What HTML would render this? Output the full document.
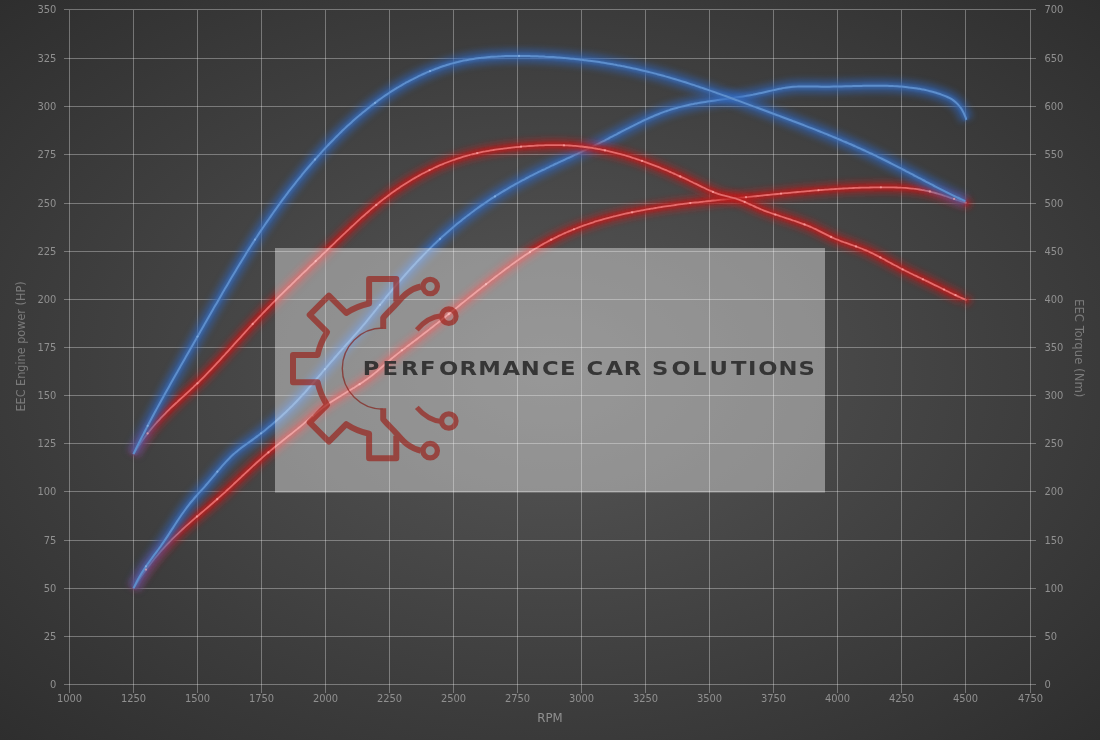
<!DOCTYPE html>
<html><head><meta charset="utf-8"><style>
html,body{margin:0;padding:0;}
body{width:1100px;height:740px;overflow:hidden;background:radial-gradient(ellipse farthest-corner at 50% 50%, #575757 0%, #2e2e2e 100%);}
svg{display:block;position:absolute;left:0;top:0;}
.ax text{font-family:"DejaVu Sans Condensed","DejaVu Sans",sans-serif;font-stretch:condensed;font-size:11px;fill:#909090;}
.logo{font-family:"DejaVu Sans",sans-serif;font-weight:bold;}
</style></head><body>
<svg width="1100" height="740" viewBox="0 0 1100 740">
<defs>
<filter id="glow" x="-10%" y="-10%" width="120%" height="120%"><feGaussianBlur stdDeviation="3"/></filter>
<filter id="soft" x="-5%" y="-5%" width="110%" height="110%"><feGaussianBlur stdDeviation="0.45"/></filter>
<filter id="glow1" x="-10%" y="-10%" width="120%" height="120%"><feGaussianBlur stdDeviation="1.1"/></filter>
</defs>
<g stroke="rgba(255,255,255,0.32)" stroke-width="1" shape-rendering="crispEdges">
<line x1="64" y1="684.5" x2="1036" y2="684.5"/>
<line x1="64" y1="636.5" x2="1036" y2="636.5"/>
<line x1="64" y1="588.5" x2="1036" y2="588.5"/>
<line x1="64" y1="540.5" x2="1036" y2="540.5"/>
<line x1="64" y1="491.5" x2="1036" y2="491.5"/>
<line x1="64" y1="443.5" x2="1036" y2="443.5"/>
<line x1="64" y1="395.5" x2="1036" y2="395.5"/>
<line x1="64" y1="347.5" x2="1036" y2="347.5"/>
<line x1="64" y1="299.5" x2="1036" y2="299.5"/>
<line x1="64" y1="251.5" x2="1036" y2="251.5"/>
<line x1="64" y1="203.5" x2="1036" y2="203.5"/>
<line x1="64" y1="154.5" x2="1036" y2="154.5"/>
<line x1="64" y1="106.5" x2="1036" y2="106.5"/>
<line x1="64" y1="58.5" x2="1036" y2="58.5"/>
<line x1="64" y1="9.5" x2="1036" y2="9.5"/>
<line x1="69.5" y1="9.5" x2="69.5" y2="693"/>
<line x1="133.5" y1="9.5" x2="133.5" y2="693"/>
<line x1="197.5" y1="9.5" x2="197.5" y2="693"/>
<line x1="261.5" y1="9.5" x2="261.5" y2="693"/>
<line x1="325.5" y1="9.5" x2="325.5" y2="693"/>
<line x1="389.5" y1="9.5" x2="389.5" y2="693"/>
<line x1="453.5" y1="9.5" x2="453.5" y2="693"/>
<line x1="517.5" y1="9.5" x2="517.5" y2="693"/>
<line x1="581.5" y1="9.5" x2="581.5" y2="693"/>
<line x1="645.5" y1="9.5" x2="645.5" y2="693"/>
<line x1="709.5" y1="9.5" x2="709.5" y2="693"/>
<line x1="773.5" y1="9.5" x2="773.5" y2="693"/>
<line x1="837.5" y1="9.5" x2="837.5" y2="693"/>
<line x1="901.5" y1="9.5" x2="901.5" y2="693"/>
<line x1="965.5" y1="9.5" x2="965.5" y2="693"/>
<line x1="1030.5" y1="9.5" x2="1030.5" y2="693"/>
</g>
<g class="ax">
<text x="56.3" y="687.6" text-anchor="end">0</text>
<text x="1044.5" y="687.6">0</text>
<text x="56.3" y="639.6" text-anchor="end">25</text>
<text x="1044.5" y="639.6">50</text>
<text x="56.3" y="591.6" text-anchor="end">50</text>
<text x="1044.5" y="591.6">100</text>
<text x="56.3" y="543.6" text-anchor="end">75</text>
<text x="1044.5" y="543.6">150</text>
<text x="56.3" y="494.6" text-anchor="end">100</text>
<text x="1044.5" y="494.6">200</text>
<text x="56.3" y="446.6" text-anchor="end">125</text>
<text x="1044.5" y="446.6">250</text>
<text x="56.3" y="398.6" text-anchor="end">150</text>
<text x="1044.5" y="398.6">300</text>
<text x="56.3" y="350.6" text-anchor="end">175</text>
<text x="1044.5" y="350.6">350</text>
<text x="56.3" y="302.6" text-anchor="end">200</text>
<text x="1044.5" y="302.6">400</text>
<text x="56.3" y="254.6" text-anchor="end">225</text>
<text x="1044.5" y="254.6">450</text>
<text x="56.3" y="206.6" text-anchor="end">250</text>
<text x="1044.5" y="206.6">500</text>
<text x="56.3" y="157.6" text-anchor="end">275</text>
<text x="1044.5" y="157.6">550</text>
<text x="56.3" y="109.6" text-anchor="end">300</text>
<text x="1044.5" y="109.6">600</text>
<text x="56.3" y="61.6" text-anchor="end">325</text>
<text x="1044.5" y="61.6">650</text>
<text x="56.3" y="12.6" text-anchor="end">350</text>
<text x="1044.5" y="12.6">700</text>
<text x="69.5" y="702" text-anchor="middle">1000</text>
<text x="133.5" y="702" text-anchor="middle">1250</text>
<text x="197.5" y="702" text-anchor="middle">1500</text>
<text x="261.5" y="702" text-anchor="middle">1750</text>
<text x="325.5" y="702" text-anchor="middle">2000</text>
<text x="389.5" y="702" text-anchor="middle">2250</text>
<text x="453.5" y="702" text-anchor="middle">2500</text>
<text x="517.5" y="702" text-anchor="middle">2750</text>
<text x="581.5" y="702" text-anchor="middle">3000</text>
<text x="645.5" y="702" text-anchor="middle">3250</text>
<text x="709.5" y="702" text-anchor="middle">3500</text>
<text x="773.5" y="702" text-anchor="middle">3750</text>
<text x="837.5" y="702" text-anchor="middle">4000</text>
<text x="901.5" y="702" text-anchor="middle">4250</text>
<text x="965.5" y="702" text-anchor="middle">4500</text>
<text x="1030.5" y="702" text-anchor="middle">4750</text>
<text x="550" y="722" text-anchor="middle" style="font-size:13px">RPM</text>
<text transform="translate(25,346.5) rotate(-90)" text-anchor="middle" style="font-size:12.5px;fill:#7a7a7a">EEC Engine power (HP)</text>
<text transform="translate(1074.5,348.2) rotate(90)" text-anchor="middle" style="font-size:13px;fill:#7a7a7a">EEC Torque (Nm)</text>
</g>
<defs><path id="crp" d="M133.4,588.4 C134.1,587.4 136.1,584.1 137.4,582.1 C138.7,580.0 140.1,578.1 141.4,576.1 C142.7,574.2 144.1,572.3 145.4,570.4 C146.7,568.6 148.1,566.8 149.4,565.1 C150.7,563.3 152.1,561.6 153.4,560.0 C154.7,558.3 156.1,556.7 157.4,555.2 C158.7,553.6 160.1,552.0 161.4,550.5 C162.7,549.1 164.1,547.6 165.4,546.2 C166.7,544.7 168.1,543.3 169.4,542.0 C170.7,540.6 172.1,539.3 173.4,537.9 C174.7,536.6 176.1,535.3 177.4,534.1 C178.7,532.8 180.1,531.5 181.4,530.3 C182.7,529.1 184.1,527.9 185.4,526.7 C186.7,525.5 188.1,524.3 189.4,523.1 C190.7,522.0 192.1,520.8 193.4,519.6 C194.7,518.5 196.1,517.3 197.4,516.2 C198.7,515.1 200.1,513.9 201.4,512.8 C202.7,511.7 204.1,510.5 205.4,509.4 C206.7,508.3 208.1,507.1 209.4,506.0 C210.7,504.8 212.1,503.7 213.4,502.5 C214.7,501.3 216.1,500.2 217.4,499.0 C218.7,497.8 220.1,496.6 221.4,495.4 C222.7,494.2 224.1,493.0 225.4,491.8 C226.7,490.5 228.1,489.3 229.4,488.1 C230.7,486.8 232.1,485.6 233.4,484.4 C234.7,483.1 236.1,481.9 237.4,480.6 C238.7,479.4 240.1,478.1 241.4,476.9 C242.7,475.6 244.1,474.4 245.4,473.1 C246.7,471.9 248.1,470.6 249.4,469.4 C250.7,468.1 252.1,466.9 253.4,465.7 C254.7,464.5 256.1,463.3 257.4,462.0 C258.7,460.8 260.1,459.6 261.4,458.5 C262.7,457.3 264.1,456.1 265.4,454.9 C266.7,453.8 268.1,452.6 269.4,451.5 C270.7,450.4 272.1,449.3 273.4,448.2 C274.7,447.1 276.1,446.0 277.4,444.9 C278.7,443.8 280.1,442.7 281.4,441.7 C282.7,440.6 284.1,439.5 285.4,438.5 C286.7,437.4 288.1,436.3 289.4,435.3 C290.7,434.2 292.1,433.2 293.4,432.1 C294.7,431.0 296.1,429.9 297.4,428.9 C298.7,427.8 300.1,426.7 301.4,425.6 C302.7,424.5 304.1,423.4 305.4,422.2 C306.7,421.1 308.1,420.0 309.4,418.8 C310.7,417.7 312.1,416.5 313.4,415.4 C314.7,414.3 316.1,413.2 317.4,412.1 C318.7,411.0 320.1,409.9 321.4,408.9 C322.7,407.9 324.1,406.9 325.4,405.9 C326.7,405.0 328.1,404.0 329.4,403.1 C330.7,402.2 332.1,401.3 333.4,400.4 C334.7,399.6 336.1,398.7 337.4,397.9 C338.7,397.1 340.1,396.2 341.4,395.4 C342.7,394.6 344.1,393.8 345.4,393.0 C346.7,392.2 348.1,391.4 349.4,390.6 C350.7,389.7 352.1,388.9 353.4,388.1 C354.7,387.3 356.1,386.5 357.4,385.6 C358.7,384.8 360.1,383.9 361.4,383.0 C362.7,382.1 364.1,381.2 365.4,380.3 C366.7,379.4 368.1,378.4 369.4,377.4 C370.7,376.4 372.1,375.4 373.4,374.3 C374.7,373.2 376.1,372.1 377.4,371.0 C378.7,369.8 380.1,368.7 381.4,367.5 C382.7,366.3 384.1,365.1 385.4,364.0 C386.7,362.8 388.1,361.6 389.4,360.5 C390.7,359.4 392.1,358.2 393.4,357.1 C394.7,356.0 396.1,355.0 397.4,353.9 C398.7,352.9 400.1,351.8 401.4,350.8 C402.7,349.8 404.1,348.8 405.4,347.7 C406.7,346.7 408.1,345.7 409.4,344.7 C410.7,343.7 412.1,342.7 413.4,341.7 C414.7,340.7 416.1,339.7 417.4,338.7 C418.7,337.7 420.1,336.6 421.4,335.6 C422.7,334.6 424.1,333.5 425.4,332.5 C426.7,331.5 428.1,330.4 429.4,329.4 C430.7,328.3 432.1,327.3 433.4,326.2 C434.7,325.2 436.1,324.1 437.4,323.1 C438.7,322.0 440.1,321.0 441.4,319.9 C442.7,318.8 444.1,317.8 445.4,316.7 C446.7,315.6 448.1,314.6 449.4,313.5 C450.7,312.4 452.1,311.3 453.4,310.3 C454.7,309.2 456.1,308.1 457.4,307.1 C458.7,306.0 460.1,304.9 461.4,303.8 C462.7,302.8 464.1,301.7 465.4,300.6 C466.7,299.6 468.1,298.5 469.4,297.4 C470.7,296.4 472.1,295.3 473.4,294.2 C474.7,293.2 476.1,292.1 477.4,291.0 C478.7,290.0 480.1,288.9 481.4,287.9 C482.7,286.8 484.1,285.8 485.4,284.7 C486.7,283.7 488.1,282.6 489.4,281.6 C490.7,280.5 492.1,279.5 493.4,278.5 C494.7,277.4 496.1,276.4 497.4,275.4 C498.7,274.4 500.1,273.4 501.4,272.4 C502.7,271.3 504.1,270.3 505.4,269.3 C506.7,268.3 508.1,267.3 509.4,266.4 C510.7,265.4 512.1,264.4 513.4,263.4 C514.7,262.5 516.1,261.5 517.4,260.6 C518.7,259.6 520.1,258.7 521.4,257.8 C522.7,256.8 524.1,255.9 525.4,255.0 C526.7,254.1 528.1,253.3 529.4,252.4 C530.7,251.5 532.1,250.7 533.4,249.8 C534.7,249.0 536.1,248.2 537.4,247.4 C538.7,246.6 540.1,245.8 541.4,245.0 C542.7,244.3 544.1,243.5 545.4,242.8 C546.7,242.1 548.1,241.3 549.4,240.6 C550.7,239.9 552.1,239.2 553.4,238.6 C554.7,237.9 556.1,237.2 557.4,236.6 C558.7,235.9 560.1,235.3 561.4,234.7 C562.7,234.1 564.1,233.5 565.4,232.9 C566.7,232.3 568.1,231.7 569.4,231.1 C570.7,230.6 572.1,230.0 573.4,229.5 C574.7,228.9 576.1,228.4 577.4,227.9 C578.7,227.4 580.1,226.9 581.4,226.4 C582.7,225.9 584.1,225.4 585.4,224.9 C586.7,224.5 588.1,224.0 589.4,223.6 C590.7,223.1 592.1,222.7 593.4,222.3 C594.7,221.8 596.1,221.4 597.4,221.0 C598.7,220.6 600.1,220.2 601.4,219.8 C602.7,219.4 604.1,219.0 605.4,218.7 C606.7,218.3 608.1,217.9 609.4,217.6 C610.7,217.2 612.1,216.9 613.4,216.5 C614.7,216.2 616.1,215.9 617.4,215.5 C618.7,215.2 620.1,214.9 621.4,214.6 C622.7,214.3 624.1,214.0 625.4,213.7 C626.7,213.4 628.1,213.1 629.4,212.8 C630.7,212.5 632.1,212.3 633.4,212.0 C634.7,211.7 636.1,211.5 637.4,211.2 C638.7,210.9 640.1,210.7 641.4,210.4 C642.7,210.2 644.1,209.9 645.4,209.7 C646.7,209.4 648.1,209.2 649.4,209.0 C650.7,208.8 652.1,208.5 653.4,208.3 C654.7,208.1 656.1,207.9 657.4,207.7 C658.7,207.4 660.1,207.2 661.4,207.0 C662.7,206.8 664.1,206.6 665.4,206.4 C666.7,206.2 668.1,206.0 669.4,205.8 C670.7,205.6 672.1,205.5 673.4,205.3 C674.7,205.1 676.1,204.9 677.4,204.7 C678.7,204.6 680.1,204.4 681.4,204.2 C682.7,204.0 684.1,203.9 685.4,203.7 C686.7,203.5 688.1,203.4 689.4,203.2 C690.7,203.1 692.1,202.9 693.4,202.7 C694.7,202.6 696.1,202.4 697.4,202.3 C698.7,202.1 700.1,202.0 701.4,201.8 C702.7,201.7 704.1,201.5 705.4,201.4 C706.7,201.2 708.1,201.1 709.4,201.0 C710.7,200.8 712.1,200.7 713.4,200.5 C714.7,200.4 716.1,200.3 717.4,200.1 C718.7,200.0 720.1,199.8 721.4,199.7 C722.7,199.6 724.1,199.4 725.4,199.3 C726.7,199.2 728.1,199.0 729.4,198.9 C730.7,198.8 732.1,198.6 733.4,198.5 C734.7,198.3 736.1,198.2 737.4,198.1 C738.7,197.9 740.1,197.8 741.4,197.7 C742.7,197.5 744.1,197.4 745.4,197.3 C746.7,197.1 748.1,197.0 749.4,196.8 C750.7,196.7 752.1,196.6 753.4,196.4 C754.7,196.3 756.1,196.2 757.4,196.0 C758.7,195.9 760.1,195.7 761.4,195.6 C762.7,195.5 764.1,195.3 765.4,195.2 C766.7,195.1 768.1,194.9 769.4,194.8 C770.7,194.6 772.1,194.5 773.4,194.4 C774.7,194.2 776.1,194.1 777.4,194.0 C778.7,193.8 780.1,193.7 781.4,193.6 C782.7,193.4 784.1,193.3 785.4,193.2 C786.7,193.0 788.1,192.9 789.4,192.8 C790.7,192.7 792.1,192.5 793.4,192.4 C794.7,192.3 796.1,192.2 797.4,192.0 C798.7,191.9 800.1,191.8 801.4,191.7 C802.7,191.5 804.1,191.4 805.4,191.3 C806.7,191.2 808.1,191.1 809.4,191.0 C810.7,190.8 812.1,190.7 813.4,190.6 C814.7,190.5 816.1,190.4 817.4,190.3 C818.7,190.2 820.1,190.1 821.4,190.0 C822.7,189.9 824.1,189.8 825.4,189.7 C826.7,189.6 828.1,189.5 829.4,189.4 C830.7,189.3 832.1,189.2 833.4,189.1 C834.7,189.0 836.1,189.0 837.4,188.9 C838.7,188.8 840.1,188.7 841.4,188.6 C842.7,188.5 844.1,188.5 845.4,188.4 C846.7,188.3 848.1,188.3 849.4,188.2 C850.7,188.1 852.1,188.1 853.4,188.0 C854.7,187.9 856.1,187.9 857.4,187.8 C858.7,187.8 860.1,187.7 861.4,187.7 C862.7,187.6 864.1,187.6 865.4,187.6 C866.7,187.5 868.1,187.5 869.4,187.5 C870.7,187.4 872.1,187.4 873.4,187.4 C874.7,187.3 876.1,187.3 877.4,187.3 C878.7,187.3 880.1,187.3 881.4,187.3 C882.7,187.3 884.1,187.3 885.4,187.3 C886.7,187.3 888.1,187.3 889.4,187.3 C890.7,187.3 892.1,187.3 893.4,187.4 C894.7,187.4 896.1,187.4 897.4,187.5 C898.7,187.5 900.1,187.6 901.4,187.7 C902.7,187.7 904.1,187.8 905.4,187.9 C906.7,188.0 908.1,188.1 909.4,188.3 C910.7,188.4 912.1,188.5 913.4,188.7 C914.7,188.8 916.1,189.0 917.4,189.2 C918.7,189.4 920.1,189.6 921.4,189.8 C922.7,190.1 924.1,190.3 925.4,190.6 C926.7,190.8 928.1,191.1 929.4,191.4 C930.7,191.8 932.1,192.1 933.4,192.4 C934.7,192.8 936.1,193.2 937.4,193.5 C938.7,193.9 940.1,194.3 941.4,194.7 C942.7,195.2 944.1,195.6 945.4,196.0 C946.7,196.4 948.1,196.9 949.4,197.3 C950.7,197.8 952.1,198.2 953.4,198.6 C954.7,199.1 956.1,199.5 957.4,200.0 C958.7,200.4 960.1,200.9 961.4,201.3 C962.7,201.7 964.7,202.3 965.4,202.6 C966.1,202.8 965.7,202.7 965.8,202.7" fill="none"/><path id="cbp" d="M133.4,588.4 C134.1,587.1 136.1,583.0 137.4,580.5 C138.7,578.0 140.1,575.8 141.4,573.6 C142.7,571.4 144.1,569.3 145.4,567.3 C146.7,565.3 148.1,563.4 149.4,561.6 C150.7,559.7 152.1,557.9 153.4,556.1 C154.7,554.3 156.1,552.6 157.4,550.7 C158.7,548.9 160.1,547.1 161.4,545.2 C162.7,543.4 164.1,541.4 165.4,539.4 C166.7,537.4 168.1,535.4 169.4,533.3 C170.7,531.2 172.1,529.1 173.4,527.1 C174.7,525.0 176.1,522.9 177.4,520.9 C178.7,518.9 180.1,517.0 181.4,515.0 C182.7,513.1 184.1,511.3 185.4,509.5 C186.7,507.7 188.1,505.9 189.4,504.2 C190.7,502.5 192.1,500.9 193.4,499.3 C194.7,497.7 196.1,496.2 197.4,494.7 C198.7,493.1 200.1,491.7 201.4,490.3 C202.7,488.8 204.1,487.3 205.4,485.8 C206.7,484.3 208.1,482.7 209.4,481.1 C210.7,479.6 212.1,478.0 213.4,476.4 C214.7,474.8 216.1,473.2 217.4,471.6 C218.7,470.0 220.1,468.5 221.4,466.9 C222.7,465.4 224.1,463.9 225.4,462.4 C226.7,461.0 228.1,459.5 229.4,458.2 C230.7,456.8 232.1,455.5 233.4,454.3 C234.7,453.1 236.1,452.0 237.4,450.9 C238.7,449.8 240.1,448.8 241.4,447.8 C242.7,446.8 244.1,445.8 245.4,444.9 C246.7,443.9 248.1,443.0 249.4,442.0 C250.7,441.1 252.1,440.1 253.4,439.1 C254.7,438.1 256.1,437.1 257.4,436.1 C258.7,435.1 260.1,434.1 261.4,433.0 C262.7,432.0 264.1,431.0 265.4,429.9 C266.7,428.8 268.1,427.7 269.4,426.6 C270.7,425.5 272.1,424.4 273.4,423.3 C274.7,422.1 276.1,421.0 277.4,419.8 C278.7,418.6 280.1,417.4 281.4,416.2 C282.7,415.0 284.1,413.7 285.4,412.5 C286.7,411.2 288.1,409.9 289.4,408.6 C290.7,407.3 292.1,406.0 293.4,404.6 C294.7,403.3 296.1,401.9 297.4,400.5 C298.7,399.1 300.1,397.6 301.4,396.2 C302.7,394.7 304.1,393.3 305.4,391.8 C306.7,390.3 308.1,388.8 309.4,387.2 C310.7,385.7 312.1,384.2 313.4,382.6 C314.7,381.1 316.1,379.5 317.4,378.0 C318.7,376.4 320.1,374.9 321.4,373.3 C322.7,371.7 324.1,370.2 325.4,368.6 C326.7,367.0 328.1,365.5 329.4,363.9 C330.7,362.3 332.1,360.8 333.4,359.3 C334.7,357.7 336.1,356.2 337.4,354.7 C338.7,353.1 340.1,351.6 341.4,350.1 C342.7,348.6 344.1,347.1 345.4,345.6 C346.7,344.1 348.1,342.7 349.4,341.2 C350.7,339.7 352.1,338.2 353.4,336.6 C354.7,335.1 356.1,333.6 357.4,332.1 C358.7,330.6 360.1,329.0 361.4,327.5 C362.7,325.9 364.1,324.4 365.4,322.8 C366.7,321.2 368.1,319.6 369.4,317.9 C370.7,316.3 372.1,314.7 373.4,313.0 C374.7,311.4 376.1,309.7 377.4,308.0 C378.7,306.4 380.1,304.7 381.4,303.0 C382.7,301.4 384.1,299.7 385.4,298.1 C386.7,296.4 388.1,294.8 389.4,293.2 C390.7,291.6 392.1,290.0 393.4,288.4 C394.7,286.8 396.1,285.3 397.4,283.7 C398.7,282.1 400.1,280.6 401.4,279.1 C402.7,277.5 404.1,276.0 405.4,274.5 C406.7,273.0 408.1,271.5 409.4,270.1 C410.7,268.6 412.1,267.1 413.4,265.7 C414.7,264.2 416.1,262.8 417.4,261.4 C418.7,260.0 420.1,258.6 421.4,257.2 C422.7,255.8 424.1,254.4 425.4,253.1 C426.7,251.7 428.1,250.4 429.4,249.1 C430.7,247.7 432.1,246.4 433.4,245.1 C434.7,243.9 436.1,242.6 437.4,241.3 C438.7,240.1 440.1,238.8 441.4,237.6 C442.7,236.4 444.1,235.2 445.4,234.0 C446.7,232.8 448.1,231.6 449.4,230.4 C450.7,229.3 452.1,228.1 453.4,227.0 C454.7,225.9 456.1,224.7 457.4,223.6 C458.7,222.5 460.1,221.5 461.4,220.4 C462.7,219.3 464.1,218.3 465.4,217.2 C466.7,216.2 468.1,215.2 469.4,214.2 C470.7,213.1 472.1,212.1 473.4,211.2 C474.7,210.2 476.1,209.2 477.4,208.3 C478.7,207.3 480.1,206.4 481.4,205.4 C482.7,204.5 484.1,203.6 485.4,202.7 C486.7,201.8 488.1,200.9 489.4,200.0 C490.7,199.1 492.1,198.2 493.4,197.4 C494.7,196.5 496.1,195.7 497.4,194.8 C498.7,194.0 500.1,193.2 501.4,192.4 C502.7,191.6 504.1,190.7 505.4,190.0 C506.7,189.2 508.1,188.4 509.4,187.6 C510.7,186.8 512.1,186.1 513.4,185.3 C514.7,184.6 516.1,183.8 517.4,183.1 C518.7,182.4 520.1,181.6 521.4,180.9 C522.7,180.2 524.1,179.5 525.4,178.8 C526.7,178.1 528.1,177.4 529.4,176.7 C530.7,176.0 532.1,175.4 533.4,174.7 C534.7,174.0 536.1,173.3 537.4,172.7 C538.7,172.0 540.1,171.4 541.4,170.7 C542.7,170.1 544.1,169.4 545.4,168.8 C546.7,168.1 548.1,167.5 549.4,166.9 C550.7,166.2 552.1,165.6 553.4,165.0 C554.7,164.3 556.1,163.7 557.4,163.1 C558.7,162.5 560.1,161.8 561.4,161.2 C562.7,160.6 564.1,160.0 565.4,159.4 C566.7,158.7 568.1,158.1 569.4,157.5 C570.7,156.9 572.1,156.3 573.4,155.6 C574.7,155.0 576.1,154.4 577.4,153.8 C578.7,153.1 580.1,152.5 581.4,151.9 C582.7,151.2 584.1,150.6 585.4,150.0 C586.7,149.3 588.1,148.7 589.4,148.1 C590.7,147.4 592.1,146.8 593.4,146.1 C594.7,145.5 596.1,144.8 597.4,144.1 C598.7,143.5 600.1,142.8 601.4,142.1 C602.7,141.4 604.1,140.8 605.4,140.1 C606.7,139.4 608.1,138.7 609.4,138.0 C610.7,137.3 612.1,136.6 613.4,135.9 C614.7,135.2 616.1,134.5 617.4,133.8 C618.7,133.1 620.1,132.4 621.4,131.7 C622.7,131.0 624.1,130.3 625.4,129.7 C626.7,129.0 628.1,128.3 629.4,127.6 C630.7,126.9 632.1,126.2 633.4,125.6 C634.7,124.9 636.1,124.2 637.4,123.6 C638.7,122.9 640.1,122.3 641.4,121.6 C642.7,121.0 644.1,120.4 645.4,119.7 C646.7,119.1 648.1,118.5 649.4,117.9 C650.7,117.3 652.1,116.7 653.4,116.2 C654.7,115.6 656.1,115.0 657.4,114.5 C658.7,114.0 660.1,113.4 661.4,112.9 C662.7,112.4 664.1,111.9 665.4,111.4 C666.7,111.0 668.1,110.5 669.4,110.1 C670.7,109.6 672.1,109.2 673.4,108.8 C674.7,108.4 676.1,108.0 677.4,107.7 C678.7,107.3 680.1,107.0 681.4,106.6 C682.7,106.3 684.1,106.0 685.4,105.7 C686.7,105.4 688.1,105.1 689.4,104.8 C690.7,104.5 692.1,104.2 693.4,104.0 C694.7,103.7 696.1,103.5 697.4,103.2 C698.7,103.0 700.1,102.8 701.4,102.5 C702.7,102.3 704.1,102.1 705.4,101.9 C706.7,101.7 708.1,101.5 709.4,101.3 C710.7,101.1 712.1,100.9 713.4,100.7 C714.7,100.5 716.1,100.3 717.4,100.1 C718.7,99.9 720.1,99.8 721.4,99.6 C722.7,99.4 724.1,99.2 725.4,99.0 C726.7,98.8 728.1,98.7 729.4,98.5 C730.7,98.3 732.1,98.1 733.4,97.9 C734.7,97.7 736.1,97.5 737.4,97.3 C738.7,97.1 740.1,96.9 741.4,96.7 C742.7,96.5 744.1,96.3 745.4,96.1 C746.7,95.8 748.1,95.6 749.4,95.4 C750.7,95.1 752.1,94.9 753.4,94.6 C754.7,94.4 756.1,94.1 757.4,93.8 C758.7,93.5 760.1,93.2 761.4,92.9 C762.7,92.6 764.1,92.3 765.4,92.0 C766.7,91.7 768.1,91.4 769.4,91.1 C770.7,90.8 772.1,90.4 773.4,90.1 C774.7,89.8 776.1,89.6 777.4,89.3 C778.7,89.0 780.1,88.7 781.4,88.5 C782.7,88.2 784.1,88.0 785.4,87.8 C786.7,87.6 788.1,87.4 789.4,87.2 C790.7,87.0 792.1,86.9 793.4,86.8 C794.7,86.7 796.1,86.6 797.4,86.6 C798.7,86.5 800.1,86.5 801.4,86.4 C802.7,86.4 804.1,86.4 805.4,86.4 C806.7,86.4 808.1,86.5 809.4,86.5 C810.7,86.5 812.1,86.5 813.4,86.6 C814.7,86.6 816.1,86.6 817.4,86.6 C818.7,86.7 820.1,86.7 821.4,86.7 C822.7,86.7 824.1,86.7 825.4,86.7 C826.7,86.7 828.1,86.7 829.4,86.7 C830.7,86.6 832.1,86.6 833.4,86.6 C834.7,86.6 836.1,86.6 837.4,86.5 C838.7,86.5 840.1,86.5 841.4,86.4 C842.7,86.4 844.1,86.4 845.4,86.3 C846.7,86.3 848.1,86.3 849.4,86.2 C850.7,86.2 852.1,86.1 853.4,86.1 C854.7,86.1 856.1,86.0 857.4,86.0 C858.7,86.0 860.1,85.9 861.4,85.9 C862.7,85.9 864.1,85.8 865.4,85.8 C866.7,85.8 868.1,85.8 869.4,85.7 C870.7,85.7 872.1,85.7 873.4,85.7 C874.7,85.7 876.1,85.7 877.4,85.7 C878.7,85.7 880.1,85.7 881.4,85.7 C882.7,85.7 884.1,85.8 885.4,85.8 C886.7,85.8 888.1,85.9 889.4,85.9 C890.7,86.0 892.1,86.0 893.4,86.1 C894.7,86.1 896.1,86.2 897.4,86.3 C898.7,86.4 900.1,86.5 901.4,86.6 C902.7,86.7 904.1,86.8 905.4,86.9 C906.7,87.1 908.1,87.2 909.4,87.4 C910.7,87.5 912.1,87.7 913.4,87.9 C914.7,88.1 916.1,88.3 917.4,88.5 C918.7,88.7 920.1,89.0 921.4,89.2 C922.7,89.5 924.1,89.7 925.4,90.0 C926.7,90.3 928.1,90.6 929.4,91.0 C930.7,91.3 932.1,91.7 933.4,92.0 C934.7,92.4 936.1,92.8 937.4,93.3 C938.7,93.7 940.1,94.1 941.4,94.6 C942.7,95.1 944.1,95.6 945.4,96.1 C946.7,96.7 948.1,97.2 949.4,97.9 C950.7,98.6 952.1,99.4 953.4,100.4 C954.7,101.4 956.1,102.5 957.4,103.9 C958.7,105.3 960.1,106.6 961.4,108.8 C962.7,110.9 964.6,114.9 965.4,116.8 C966.2,118.6 966.1,119.4 966.3,119.9" fill="none"/><path id="crt" d="M133.4,454.1 C134.1,453.0 136.1,449.8 137.4,447.7 C138.7,445.7 140.1,443.7 141.4,441.8 C142.7,439.9 144.1,438.1 145.4,436.3 C146.7,434.5 148.1,432.8 149.4,431.1 C150.7,429.5 152.1,427.9 153.4,426.3 C154.7,424.7 156.1,423.2 157.4,421.7 C158.7,420.2 160.1,418.8 161.4,417.4 C162.7,416.0 164.1,414.6 165.4,413.3 C166.7,411.9 168.1,410.6 169.4,409.3 C170.7,408.0 172.1,406.8 173.4,405.5 C174.7,404.2 176.1,403.0 177.4,401.8 C178.7,400.5 180.1,399.3 181.4,398.1 C182.7,396.9 184.1,395.7 185.4,394.5 C186.7,393.3 188.1,392.0 189.4,390.8 C190.7,389.6 192.1,388.3 193.4,387.1 C194.7,385.8 196.1,384.6 197.4,383.3 C198.7,382.0 200.1,380.7 201.4,379.4 C202.7,378.1 204.1,376.7 205.4,375.3 C206.7,374.0 208.1,372.6 209.4,371.2 C210.7,369.8 212.1,368.4 213.4,367.0 C214.7,365.6 216.1,364.2 217.4,362.7 C218.7,361.3 220.1,359.9 221.4,358.4 C222.7,356.9 224.1,355.5 225.4,354.0 C226.7,352.6 228.1,351.1 229.4,349.6 C230.7,348.1 232.1,346.7 233.4,345.2 C234.7,343.7 236.1,342.2 237.4,340.7 C238.7,339.3 240.1,337.8 241.4,336.3 C242.7,334.8 244.1,333.4 245.4,331.9 C246.7,330.5 248.1,329.0 249.4,327.5 C250.7,326.1 252.1,324.7 253.4,323.2 C254.7,321.8 256.1,320.4 257.4,319.0 C258.7,317.5 260.1,316.1 261.4,314.8 C262.7,313.4 264.1,312.0 265.4,310.6 C266.7,309.2 268.1,307.8 269.4,306.5 C270.7,305.1 272.1,303.8 273.4,302.4 C274.7,301.1 276.1,299.7 277.4,298.4 C278.7,297.0 280.1,295.7 281.4,294.4 C282.7,293.1 284.1,291.7 285.4,290.4 C286.7,289.1 288.1,287.8 289.4,286.5 C290.7,285.2 292.1,283.9 293.4,282.6 C294.7,281.3 296.1,280.0 297.4,278.7 C298.7,277.4 300.1,276.1 301.4,274.8 C302.7,273.5 304.1,272.3 305.4,271.0 C306.7,269.7 308.1,268.4 309.4,267.1 C310.7,265.8 312.1,264.6 313.4,263.3 C314.7,262.0 316.1,260.7 317.4,259.4 C318.7,258.2 320.1,256.9 321.4,255.6 C322.7,254.3 324.1,253.1 325.4,251.8 C326.7,250.5 328.1,249.2 329.4,247.9 C330.7,246.6 332.1,245.4 333.4,244.1 C334.7,242.8 336.1,241.5 337.4,240.2 C338.7,238.9 340.1,237.7 341.4,236.4 C342.7,235.1 344.1,233.8 345.4,232.6 C346.7,231.3 348.1,230.0 349.4,228.8 C350.7,227.5 352.1,226.3 353.4,225.1 C354.7,223.8 356.1,222.6 357.4,221.4 C358.7,220.1 360.1,218.9 361.4,217.7 C362.7,216.5 364.1,215.3 365.4,214.2 C366.7,213.0 368.1,211.8 369.4,210.7 C370.7,209.5 372.1,208.4 373.4,207.3 C374.7,206.2 376.1,205.1 377.4,204.0 C378.7,202.9 380.1,201.8 381.4,200.8 C382.7,199.7 384.1,198.7 385.4,197.7 C386.7,196.7 388.1,195.7 389.4,194.7 C390.7,193.7 392.1,192.7 393.4,191.8 C394.7,190.8 396.1,189.9 397.4,189.0 C398.7,188.1 400.1,187.2 401.4,186.3 C402.7,185.4 404.1,184.6 405.4,183.7 C406.7,182.9 408.1,182.0 409.4,181.2 C410.7,180.4 412.1,179.6 413.4,178.8 C414.7,178.0 416.1,177.3 417.4,176.5 C418.7,175.8 420.1,175.0 421.4,174.3 C422.7,173.6 424.1,172.9 425.4,172.2 C426.7,171.5 428.1,170.8 429.4,170.2 C430.7,169.5 432.1,168.9 433.4,168.2 C434.7,167.6 436.1,167.0 437.4,166.4 C438.7,165.8 440.1,165.2 441.4,164.7 C442.7,164.1 444.1,163.6 445.4,163.0 C446.7,162.5 448.1,162.0 449.4,161.5 C450.7,161.0 452.1,160.5 453.4,160.0 C454.7,159.5 456.1,159.1 457.4,158.6 C458.7,158.2 460.1,157.8 461.4,157.3 C462.7,156.9 464.1,156.5 465.4,156.1 C466.7,155.8 468.1,155.4 469.4,155.0 C470.7,154.7 472.1,154.3 473.4,154.0 C474.7,153.7 476.1,153.4 477.4,153.1 C478.7,152.8 480.1,152.5 481.4,152.2 C482.7,151.9 484.1,151.6 485.4,151.4 C486.7,151.1 488.1,150.9 489.4,150.7 C490.7,150.4 492.1,150.2 493.4,150.0 C494.7,149.8 496.1,149.6 497.4,149.4 C498.7,149.2 500.1,149.0 501.4,148.8 C502.7,148.6 504.1,148.5 505.4,148.3 C506.7,148.1 508.1,148.0 509.4,147.8 C510.7,147.7 512.1,147.5 513.4,147.4 C514.7,147.3 516.1,147.1 517.4,147.0 C518.7,146.9 520.1,146.8 521.4,146.6 C522.7,146.5 524.1,146.4 525.4,146.3 C526.7,146.2 528.1,146.1 529.4,146.0 C530.7,145.9 532.1,145.8 533.4,145.8 C534.7,145.7 536.1,145.6 537.4,145.5 C538.7,145.5 540.1,145.4 541.4,145.4 C542.7,145.3 544.1,145.3 545.4,145.2 C546.7,145.2 548.1,145.2 549.4,145.1 C550.7,145.1 552.1,145.1 553.4,145.1 C554.7,145.1 556.1,145.1 557.4,145.1 C558.7,145.1 560.1,145.1 561.4,145.2 C562.7,145.2 564.1,145.3 565.4,145.3 C566.7,145.4 568.1,145.4 569.4,145.5 C570.7,145.6 572.1,145.7 573.4,145.8 C574.7,145.9 576.1,146.0 577.4,146.1 C578.7,146.2 580.1,146.4 581.4,146.5 C582.7,146.7 584.1,146.8 585.4,147.0 C586.7,147.2 588.1,147.3 589.4,147.5 C590.7,147.7 592.1,147.9 593.4,148.2 C594.7,148.4 596.1,148.6 597.4,148.8 C598.7,149.1 600.1,149.3 601.4,149.6 C602.7,149.9 604.1,150.1 605.4,150.4 C606.7,150.7 608.1,151.0 609.4,151.3 C610.7,151.6 612.1,152.0 613.4,152.3 C614.7,152.6 616.1,153.0 617.4,153.3 C618.7,153.7 620.1,154.0 621.4,154.4 C622.7,154.8 624.1,155.1 625.4,155.5 C626.7,155.9 628.1,156.3 629.4,156.7 C630.7,157.1 632.1,157.6 633.4,158.0 C634.7,158.4 636.1,158.9 637.4,159.3 C638.7,159.8 640.1,160.2 641.4,160.7 C642.7,161.1 644.1,161.6 645.4,162.1 C646.7,162.6 648.1,163.1 649.4,163.6 C650.7,164.1 652.1,164.6 653.4,165.1 C654.7,165.6 656.1,166.1 657.4,166.6 C658.7,167.2 660.1,167.7 661.4,168.3 C662.7,168.8 664.1,169.4 665.4,169.9 C666.7,170.5 668.1,171.0 669.4,171.6 C670.7,172.2 672.1,172.8 673.4,173.4 C674.7,174.0 676.1,174.6 677.4,175.2 C678.7,175.8 680.1,176.4 681.4,177.0 C682.7,177.6 684.1,178.2 685.4,178.8 C686.7,179.5 688.1,180.1 689.4,180.7 C690.7,181.4 692.1,182.0 693.4,182.7 C694.7,183.3 696.1,184.0 697.4,184.6 C698.7,185.3 700.1,186.0 701.4,186.6 C702.7,187.2 704.1,187.9 705.4,188.5 C706.7,189.1 708.1,189.8 709.4,190.4 C710.7,190.9 712.1,191.5 713.4,192.1 C714.7,192.6 716.1,193.1 717.4,193.6 C718.7,194.1 720.1,194.5 721.4,194.9 C722.7,195.3 724.1,195.6 725.4,196.0 C726.7,196.3 728.1,196.6 729.4,196.9 C730.7,197.2 732.1,197.5 733.4,197.9 C734.7,198.2 736.1,198.6 737.4,199.1 C738.7,199.5 740.1,200.0 741.4,200.6 C742.7,201.1 744.1,201.7 745.4,202.3 C746.7,202.9 748.1,203.5 749.4,204.1 C750.7,204.7 752.1,205.3 753.4,205.9 C754.7,206.6 756.1,207.2 757.4,207.8 C758.7,208.4 760.1,208.9 761.4,209.5 C762.7,210.0 764.1,210.6 765.4,211.1 C766.7,211.6 768.1,212.1 769.4,212.5 C770.7,213.0 772.1,213.5 773.4,213.9 C774.7,214.4 776.1,214.8 777.4,215.2 C778.7,215.7 780.1,216.1 781.4,216.5 C782.7,217.0 784.1,217.4 785.4,217.8 C786.7,218.3 788.1,218.7 789.4,219.1 C790.7,219.6 792.1,220.0 793.4,220.5 C794.7,220.9 796.1,221.4 797.4,221.8 C798.7,222.3 800.1,222.8 801.4,223.3 C802.7,223.8 804.1,224.3 805.4,224.8 C806.7,225.3 808.1,225.8 809.4,226.4 C810.7,227.0 812.1,227.6 813.4,228.2 C814.7,228.8 816.1,229.4 817.4,230.1 C818.7,230.7 820.1,231.4 821.4,232.1 C822.7,232.8 824.1,233.5 825.4,234.1 C826.7,234.8 828.1,235.5 829.4,236.1 C830.7,236.8 832.1,237.4 833.4,238.0 C834.7,238.6 836.1,239.2 837.4,239.7 C838.7,240.2 840.1,240.8 841.4,241.3 C842.7,241.8 844.1,242.2 845.4,242.7 C846.7,243.2 848.1,243.7 849.4,244.1 C850.7,244.6 852.1,245.1 853.4,245.5 C854.7,246.0 856.1,246.5 857.4,247.0 C858.7,247.5 860.1,248.0 861.4,248.5 C862.7,249.0 864.1,249.6 865.4,250.1 C866.7,250.7 868.1,251.3 869.4,251.9 C870.7,252.5 872.1,253.2 873.4,253.8 C874.7,254.5 876.1,255.2 877.4,255.9 C878.7,256.5 880.1,257.3 881.4,258.0 C882.7,258.7 884.1,259.4 885.4,260.1 C886.7,260.8 888.1,261.6 889.4,262.3 C890.7,263.0 892.1,263.8 893.4,264.5 C894.7,265.2 896.1,265.9 897.4,266.6 C898.7,267.4 900.1,268.1 901.4,268.8 C902.7,269.4 904.1,270.1 905.4,270.8 C906.7,271.5 908.1,272.1 909.4,272.8 C910.7,273.4 912.1,274.1 913.4,274.7 C914.7,275.3 916.1,276.0 917.4,276.6 C918.7,277.2 920.1,277.9 921.4,278.5 C922.7,279.2 924.1,279.8 925.4,280.4 C926.7,281.1 928.1,281.7 929.4,282.4 C930.7,283.0 932.1,283.7 933.4,284.4 C934.7,285.0 936.1,285.7 937.4,286.3 C938.7,287.0 940.1,287.7 941.4,288.3 C942.7,289.0 944.1,289.6 945.4,290.3 C946.7,290.9 948.1,291.6 949.4,292.2 C950.7,292.9 952.1,293.5 953.4,294.2 C954.7,294.8 956.1,295.4 957.4,296.1 C958.7,296.7 960.1,297.3 961.4,297.9 C962.7,298.5 964.7,299.4 965.4,299.7 C966.1,300.0 965.6,299.8 965.6,299.8" fill="none"/><path id="cbt" d="M133.4,454.1 C134.1,452.7 136.1,448.6 137.4,445.9 C138.7,443.3 140.1,440.6 141.4,438.0 C142.7,435.4 144.1,432.8 145.4,430.2 C146.7,427.6 148.1,425.1 149.4,422.5 C150.7,420.0 152.1,417.5 153.4,415.0 C154.7,412.5 156.1,410.1 157.4,407.6 C158.7,405.2 160.1,402.7 161.4,400.3 C162.7,397.9 164.1,395.5 165.4,393.1 C166.7,390.7 168.1,388.3 169.4,385.9 C170.7,383.6 172.1,381.2 173.4,378.8 C174.7,376.5 176.1,374.1 177.4,371.8 C178.7,369.4 180.1,367.1 181.4,364.8 C182.7,362.4 184.1,360.1 185.4,357.7 C186.7,355.4 188.1,353.1 189.4,350.7 C190.7,348.4 192.1,346.1 193.4,343.8 C194.7,341.4 196.1,339.1 197.4,336.8 C198.7,334.4 200.1,332.1 201.4,329.8 C202.7,327.4 204.1,325.1 205.4,322.8 C206.7,320.5 208.1,318.1 209.4,315.8 C210.7,313.5 212.1,311.1 213.4,308.8 C214.7,306.5 216.1,304.2 217.4,301.9 C218.7,299.6 220.1,297.2 221.4,294.9 C222.7,292.6 224.1,290.3 225.4,288.1 C226.7,285.8 228.1,283.5 229.4,281.2 C230.7,279.0 232.1,276.7 233.4,274.5 C234.7,272.3 236.1,270.0 237.4,267.8 C238.7,265.6 240.1,263.4 241.4,261.2 C242.7,259.1 244.1,256.9 245.4,254.7 C246.7,252.6 248.1,250.5 249.4,248.4 C250.7,246.3 252.1,244.2 253.4,242.1 C254.7,240.0 256.1,238.0 257.4,236.0 C258.7,233.9 260.1,231.9 261.4,229.9 C262.7,227.9 264.1,226.0 265.4,224.0 C266.7,222.0 268.1,220.1 269.4,218.2 C270.7,216.3 272.1,214.4 273.4,212.5 C274.7,210.6 276.1,208.7 277.4,206.9 C278.7,205.0 280.1,203.2 281.4,201.4 C282.7,199.6 284.1,197.8 285.4,196.0 C286.7,194.2 288.1,192.5 289.4,190.7 C290.7,189.0 292.1,187.3 293.4,185.6 C294.7,183.9 296.1,182.2 297.4,180.5 C298.7,178.8 300.1,177.2 301.4,175.6 C302.7,173.9 304.1,172.3 305.4,170.7 C306.7,169.1 308.1,167.5 309.4,166.0 C310.7,164.4 312.1,162.8 313.4,161.3 C314.7,159.8 316.1,158.3 317.4,156.8 C318.7,155.3 320.1,153.8 321.4,152.3 C322.7,150.9 324.1,149.4 325.4,148.0 C326.7,146.6 328.1,145.2 329.4,143.8 C330.7,142.4 332.1,141.0 333.4,139.7 C334.7,138.3 336.1,137.0 337.4,135.6 C338.7,134.3 340.1,133.0 341.4,131.7 C342.7,130.4 344.1,129.2 345.4,127.9 C346.7,126.6 348.1,125.4 349.4,124.2 C350.7,123.0 352.1,121.8 353.4,120.6 C354.7,119.4 356.1,118.2 357.4,117.1 C358.7,115.9 360.1,114.8 361.4,113.7 C362.7,112.6 364.1,111.5 365.4,110.4 C366.7,109.3 368.1,108.2 369.4,107.2 C370.7,106.1 372.1,105.1 373.4,104.1 C374.7,103.1 376.1,102.1 377.4,101.1 C378.7,100.1 380.1,99.2 381.4,98.2 C382.7,97.3 384.1,96.3 385.4,95.4 C386.7,94.5 388.1,93.6 389.4,92.7 C390.7,91.9 392.1,91.0 393.4,90.2 C394.7,89.3 396.1,88.5 397.4,87.7 C398.7,86.9 400.1,86.1 401.4,85.3 C402.7,84.5 404.1,83.8 405.4,83.0 C406.7,82.3 408.1,81.6 409.4,80.8 C410.7,80.1 412.1,79.4 413.4,78.8 C414.7,78.1 416.1,77.4 417.4,76.8 C418.7,76.1 420.1,75.5 421.4,74.9 C422.7,74.3 424.1,73.7 425.4,73.1 C426.7,72.5 428.1,71.9 429.4,71.4 C430.7,70.8 432.1,70.3 433.4,69.8 C434.7,69.2 436.1,68.7 437.4,68.2 C438.7,67.7 440.1,67.3 441.4,66.8 C442.7,66.3 444.1,65.9 445.4,65.5 C446.7,65.0 448.1,64.6 449.4,64.2 C450.7,63.8 452.1,63.5 453.4,63.1 C454.7,62.7 456.1,62.4 457.4,62.1 C458.7,61.7 460.1,61.4 461.4,61.1 C462.7,60.8 464.1,60.5 465.4,60.3 C466.7,60.0 468.1,59.8 469.4,59.5 C470.7,59.3 472.1,59.1 473.4,58.9 C474.7,58.7 476.1,58.5 477.4,58.3 C478.7,58.1 480.1,57.9 481.4,57.8 C482.7,57.6 484.1,57.5 485.4,57.4 C486.7,57.2 488.1,57.1 489.4,57.0 C490.7,56.9 492.1,56.8 493.4,56.7 C494.7,56.6 496.1,56.5 497.4,56.5 C498.7,56.4 500.1,56.3 501.4,56.3 C502.7,56.2 504.1,56.2 505.4,56.1 C506.7,56.1 508.1,56.1 509.4,56.1 C510.7,56.0 512.1,56.0 513.4,56.0 C514.7,56.0 516.1,56.0 517.4,56.0 C518.7,56.0 520.1,56.0 521.4,56.0 C522.7,56.0 524.1,56.0 525.4,56.0 C526.7,56.1 528.1,56.1 529.4,56.1 C530.7,56.1 532.1,56.2 533.4,56.2 C534.7,56.2 536.1,56.3 537.4,56.3 C538.7,56.4 540.1,56.4 541.4,56.5 C542.7,56.6 544.1,56.6 545.4,56.7 C546.7,56.7 548.1,56.8 549.4,56.9 C550.7,57.0 552.1,57.1 553.4,57.1 C554.7,57.2 556.1,57.3 557.4,57.4 C558.7,57.5 560.1,57.6 561.4,57.7 C562.7,57.8 564.1,57.9 565.4,58.1 C566.7,58.2 568.1,58.3 569.4,58.4 C570.7,58.6 572.1,58.7 573.4,58.8 C574.7,59.0 576.1,59.1 577.4,59.2 C578.7,59.4 580.1,59.5 581.4,59.7 C582.7,59.9 584.1,60.0 585.4,60.2 C586.7,60.4 588.1,60.5 589.4,60.7 C590.7,60.9 592.1,61.1 593.4,61.2 C594.7,61.4 596.1,61.6 597.4,61.8 C598.7,62.0 600.1,62.2 601.4,62.4 C602.7,62.6 604.1,62.8 605.4,63.1 C606.7,63.3 608.1,63.5 609.4,63.7 C610.7,64.0 612.1,64.2 613.4,64.4 C614.7,64.7 616.1,64.9 617.4,65.2 C618.7,65.4 620.1,65.7 621.4,65.9 C622.7,66.2 624.1,66.4 625.4,66.7 C626.7,67.0 628.1,67.3 629.4,67.5 C630.7,67.8 632.1,68.1 633.4,68.4 C634.7,68.7 636.1,69.0 637.4,69.3 C638.7,69.6 640.1,69.9 641.4,70.2 C642.7,70.5 644.1,70.8 645.4,71.1 C646.7,71.5 648.1,71.8 649.4,72.1 C650.7,72.4 652.1,72.8 653.4,73.1 C654.7,73.5 656.1,73.8 657.4,74.2 C658.7,74.5 660.1,74.9 661.4,75.2 C662.7,75.6 664.1,76.0 665.4,76.4 C666.7,76.7 668.1,77.1 669.4,77.5 C670.7,77.9 672.1,78.3 673.4,78.7 C674.7,79.1 676.1,79.5 677.4,79.9 C678.7,80.3 680.1,80.7 681.4,81.1 C682.7,81.5 684.1,81.9 685.4,82.3 C686.7,82.8 688.1,83.2 689.4,83.6 C690.7,84.1 692.1,84.5 693.4,84.9 C694.7,85.4 696.1,85.8 697.4,86.3 C698.7,86.7 700.1,87.2 701.4,87.6 C702.7,88.1 704.1,88.5 705.4,89.0 C706.7,89.4 708.1,89.9 709.4,90.4 C710.7,90.8 712.1,91.3 713.4,91.8 C714.7,92.2 716.1,92.7 717.4,93.2 C718.7,93.6 720.1,94.1 721.4,94.6 C722.7,95.1 724.1,95.6 725.4,96.0 C726.7,96.5 728.1,97.0 729.4,97.5 C730.7,98.0 732.1,98.5 733.4,99.0 C734.7,99.5 736.1,99.9 737.4,100.4 C738.7,100.9 740.1,101.4 741.4,101.9 C742.7,102.4 744.1,102.9 745.4,103.4 C746.7,103.9 748.1,104.4 749.4,104.9 C750.7,105.4 752.1,105.9 753.4,106.4 C754.7,106.8 756.1,107.3 757.4,107.8 C758.7,108.3 760.1,108.8 761.4,109.3 C762.7,109.8 764.1,110.3 765.4,110.8 C766.7,111.3 768.1,111.8 769.4,112.3 C770.7,112.8 772.1,113.3 773.4,113.8 C774.7,114.3 776.1,114.8 777.4,115.3 C778.7,115.7 780.1,116.2 781.4,116.7 C782.7,117.2 784.1,117.7 785.4,118.2 C786.7,118.7 788.1,119.2 789.4,119.7 C790.7,120.2 792.1,120.7 793.4,121.3 C794.7,121.8 796.1,122.3 797.4,122.8 C798.7,123.3 800.1,123.8 801.4,124.3 C802.7,124.8 804.1,125.3 805.4,125.8 C806.7,126.4 808.1,126.9 809.4,127.4 C810.7,127.9 812.1,128.4 813.4,128.9 C814.7,129.5 816.1,130.0 817.4,130.5 C818.7,131.1 820.1,131.6 821.4,132.1 C822.7,132.6 824.1,133.2 825.4,133.7 C826.7,134.3 828.1,134.8 829.4,135.3 C830.7,135.9 832.1,136.4 833.4,137.0 C834.7,137.5 836.1,138.1 837.4,138.7 C838.7,139.2 840.1,139.8 841.4,140.3 C842.7,140.9 844.1,141.5 845.4,142.0 C846.7,142.6 848.1,143.2 849.4,143.8 C850.7,144.3 852.1,144.9 853.4,145.5 C854.7,146.1 856.1,146.7 857.4,147.3 C858.7,147.9 860.1,148.5 861.4,149.1 C862.7,149.7 864.1,150.3 865.4,150.9 C866.7,151.5 868.1,152.2 869.4,152.8 C870.7,153.4 872.1,154.0 873.4,154.7 C874.7,155.3 876.1,155.9 877.4,156.6 C878.7,157.2 880.1,157.9 881.4,158.5 C882.7,159.2 884.1,159.9 885.4,160.5 C886.7,161.2 888.1,161.9 889.4,162.5 C890.7,163.2 892.1,163.9 893.4,164.6 C894.7,165.2 896.1,165.9 897.4,166.6 C898.7,167.3 900.1,168.0 901.4,168.7 C902.7,169.4 904.1,170.1 905.4,170.8 C906.7,171.5 908.1,172.2 909.4,172.9 C910.7,173.6 912.1,174.3 913.4,175.0 C914.7,175.7 916.1,176.4 917.4,177.1 C918.7,177.8 920.1,178.5 921.4,179.2 C922.7,179.9 924.1,180.6 925.4,181.3 C926.7,182.0 928.1,182.7 929.4,183.4 C930.7,184.1 932.1,184.8 933.4,185.5 C934.7,186.2 936.1,186.9 937.4,187.6 C938.7,188.2 940.1,188.9 941.4,189.6 C942.7,190.3 944.1,191.0 945.4,191.6 C946.7,192.3 948.1,193.0 949.4,193.6 C950.7,194.3 952.1,195.0 953.4,195.6 C954.7,196.3 956.1,196.9 957.4,197.5 C958.7,198.2 960.1,198.8 961.4,199.4 C962.7,200.0 964.7,200.9 965.4,201.2" fill="none"/></defs>
<use href="#crp" stroke="#c01c1c" stroke-width="12" opacity="0.6" filter="url(#glow)"/>
<use href="#crp" stroke="#b41e1e" stroke-width="6" opacity="0.62" filter="url(#glow1)"/>
<use href="#crp" stroke="#e46a6a" stroke-width="1.8" filter="url(#soft)"/>
<use href="#cbp" stroke="#2e66c0" stroke-width="14" opacity="0.55" filter="url(#glow)"/>
<use href="#cbp" stroke="#3a70bc" stroke-width="6" opacity="0.5" filter="url(#glow1)"/>
<use href="#cbp" stroke="#5d8ecc" stroke-width="2.0" filter="url(#soft)"/>
<use href="#crt" stroke="#c01c1c" stroke-width="12" opacity="0.6" filter="url(#glow)"/>
<use href="#crt" stroke="#b41e1e" stroke-width="6" opacity="0.62" filter="url(#glow1)"/>
<use href="#crt" stroke="#e46a6a" stroke-width="1.8" filter="url(#soft)"/>
<use href="#cbt" stroke="#2e66c0" stroke-width="14" opacity="0.55" filter="url(#glow)"/>
<use href="#cbt" stroke="#3a70bc" stroke-width="6" opacity="0.5" filter="url(#glow1)"/>
<use href="#cbt" stroke="#5d8ecc" stroke-width="2.0" filter="url(#soft)"/>
<circle cx="147.6" cy="433.4" r="1.15" fill="#ffb0b0" opacity="0.6"/>
<circle cx="197.4" cy="383.3" r="1.15" fill="#ffb0b0" opacity="0.6"/>
<circle cx="252.7" cy="324.0" r="1.15" fill="#ffb0b0" opacity="0.6"/>
<circle cx="315.7" cy="261.1" r="1.15" fill="#ffb0b0" opacity="0.6"/>
<circle cx="376.2" cy="205.0" r="1.15" fill="#ffb0b0" opacity="0.6"/>
<circle cx="429.5" cy="170.1" r="1.15" fill="#ffb0b0" opacity="0.6"/>
<circle cx="477.2" cy="153.1" r="1.15" fill="#ffb0b0" opacity="0.6"/>
<circle cx="521.0" cy="146.7" r="1.15" fill="#ffb0b0" opacity="0.6"/>
<circle cx="564.0" cy="145.3" r="1.15" fill="#ffb0b0" opacity="0.6"/>
<circle cx="605.0" cy="150.4" r="1.15" fill="#ffb0b0" opacity="0.6"/>
<circle cx="642.0" cy="160.9" r="1.15" fill="#ffb0b0" opacity="0.6"/>
<circle cx="680.3" cy="176.5" r="1.15" fill="#ffb0b0" opacity="0.6"/>
<circle cx="713.0" cy="191.9" r="1.15" fill="#ffb0b0" opacity="0.6"/>
<circle cx="744.7" cy="202.0" r="1.15" fill="#ffb0b0" opacity="0.6"/>
<circle cx="775.3" cy="214.6" r="1.15" fill="#ffb0b0" opacity="0.6"/>
<circle cx="804.5" cy="224.4" r="1.15" fill="#ffb0b0" opacity="0.6"/>
<circle cx="831.1" cy="237.0" r="1.15" fill="#ffb0b0" opacity="0.6"/>
<circle cx="856.0" cy="246.5" r="1.15" fill="#ffb0b0" opacity="0.6"/>
<circle cx="880.4" cy="257.4" r="1.15" fill="#ffb0b0" opacity="0.6"/>
<circle cx="902.6" cy="269.4" r="1.15" fill="#ffb0b0" opacity="0.6"/>
<circle cx="923.0" cy="279.3" r="1.15" fill="#ffb0b0" opacity="0.6"/>
<circle cx="944.0" cy="289.6" r="1.15" fill="#ffb0b0" opacity="0.6"/>
<circle cx="955.5" cy="295.2" r="1.15" fill="#ffb0b0" opacity="0.6"/>
<circle cx="146.0" cy="569.6" r="1.15" fill="#ffb0b0" opacity="0.6"/>
<circle cx="197.0" cy="516.5" r="1.15" fill="#ffb0b0" opacity="0.6"/>
<circle cx="217.2" cy="499.2" r="1.15" fill="#ffb0b0" opacity="0.6"/>
<circle cx="268.4" cy="452.4" r="1.15" fill="#ffb0b0" opacity="0.6"/>
<circle cx="313.0" cy="415.8" r="1.15" fill="#ffb0b0" opacity="0.6"/>
<circle cx="359.6" cy="384.2" r="1.15" fill="#ffb0b0" opacity="0.6"/>
<circle cx="402.0" cy="350.3" r="1.15" fill="#ffb0b0" opacity="0.6"/>
<circle cx="448.7" cy="314.0" r="1.15" fill="#ffb0b0" opacity="0.6"/>
<circle cx="486.0" cy="284.2" r="1.15" fill="#ffb0b0" opacity="0.6"/>
<circle cx="530.0" cy="252.0" r="1.15" fill="#ffb0b0" opacity="0.6"/>
<circle cx="551.2" cy="239.7" r="1.15" fill="#ffb0b0" opacity="0.6"/>
<circle cx="573.9" cy="229.3" r="1.15" fill="#ffb0b0" opacity="0.6"/>
<circle cx="632.0" cy="212.3" r="1.15" fill="#ffb0b0" opacity="0.6"/>
<circle cx="690.3" cy="203.1" r="1.15" fill="#ffb0b0" opacity="0.6"/>
<circle cx="746.0" cy="197.2" r="1.15" fill="#ffb0b0" opacity="0.6"/>
<circle cx="781.0" cy="193.6" r="1.15" fill="#ffb0b0" opacity="0.6"/>
<circle cx="818.5" cy="190.2" r="1.15" fill="#ffb0b0" opacity="0.6"/>
<circle cx="880.9" cy="187.3" r="1.15" fill="#ffb0b0" opacity="0.6"/>
<circle cx="929.8" cy="191.5" r="1.15" fill="#ffb0b0" opacity="0.6"/>
<circle cx="954.1" cy="198.9" r="1.15" fill="#ffb0b0" opacity="0.6"/>
<circle cx="147.7" cy="425.8" r="1.15" fill="#a8cbf5" opacity="0.45"/>
<circle cx="197.5" cy="336.6" r="1.15" fill="#a8cbf5" opacity="0.45"/>
<circle cx="255.0" cy="239.6" r="1.15" fill="#a8cbf5" opacity="0.45"/>
<circle cx="315.0" cy="159.5" r="1.15" fill="#a8cbf5" opacity="0.45"/>
<circle cx="375.0" cy="102.9" r="1.15" fill="#a8cbf5" opacity="0.45"/>
<circle cx="430.0" cy="71.1" r="1.15" fill="#a8cbf5" opacity="0.45"/>
<circle cx="519.0" cy="56.0" r="1.15" fill="#a8cbf5" opacity="0.45"/>
<circle cx="146.0" cy="566.4" r="1.15" fill="#a8cbf5" opacity="0.45"/>
<circle cx="217.3" cy="471.7" r="1.15" fill="#a8cbf5" opacity="0.45"/>
<circle cx="261.1" cy="433.3" r="1.15" fill="#a8cbf5" opacity="0.45"/>
<circle cx="325.0" cy="369.1" r="1.15" fill="#a8cbf5" opacity="0.45"/>
<circle cx="380.0" cy="304.8" r="1.15" fill="#a8cbf5" opacity="0.45"/>
<circle cx="440.0" cy="238.9" r="1.15" fill="#a8cbf5" opacity="0.45"/>
<circle cx="495.0" cy="196.4" r="1.15" fill="#a8cbf5" opacity="0.45"/>
<g>
<rect x="275" y="248" width="550" height="244.5" fill="#fff" fill-opacity="0.385"/>
<g opacity="0.62"><g fill="none" stroke="#9a170f" stroke-width="6" stroke-linejoin="round">
<path d="M396.3,301.5 L396.3,278.9 L369.1,278.9 L369.1,303.5 A66.5,66.5 0 0 0 346.3,313.0 L328.9,295.6 L309.7,314.8 L327.1,332.2 A66.5,66.5 0 0 0 317.6,355.0 L293.0,355.0 L293.0,382.2 L317.6,382.2 A66.5,66.5 0 0 0 327.1,405.0 L309.7,422.4 L328.9,441.6 L346.3,424.2 A66.5,66.5 0 0 0 369.1,433.7 L369.1,458.3 L396.3,458.3 L396.3,435.7"/>
<path d="M383.2,329 L383.2,318 C386,314 392,309 398,302 C404,295 410,289 421,286.5"/><path d="M383.2,408.2 L383.2,419.2 C386,423.2 392,428.2 398,435.2 C404,442.2 410,448.2 421,450.7"/>
<path d="M416.8,329.8 Q428,316.7 441.5,315.7" stroke-width="5"/><path d="M416.8,407.4 Q428,420.5 441.5,421.5" stroke-width="5"/>
<circle cx="430.2" cy="286.5" r="7.2" stroke-width="5.3"/>
<circle cx="448.8" cy="316.2" r="7.2" stroke-width="5.3"/>
<circle cx="448.8" cy="421.0" r="7.2" stroke-width="5.3"/>
<circle cx="430.2" cy="450.7" r="7.2" stroke-width="5.3"/>
</g>
<path d="M382.9,328.0 A40.6,40.6 0 0 0 382.9,409.2" fill="none" stroke="#82140c" stroke-width="1.4"/></g>
<g opacity="0.9"><text class="logo" transform="scale(1.200,1)" y="374.6" font-size="18.9" fill="#2c2c2c"><tspan x="302.35 318.68 334.18 350.10 365.89 382.85 398.60 418.82 434.02 451.64 466.77">PERFORMANCE</tspan> <tspan x="488.73 504.57 519.77">CAR</tspan> <tspan x="543.31 559.64 576.60 591.18 609.07 623.27 631.89 648.85 665.48">SOLUTIONS</tspan></text></g>
</g>
</svg>
</body></html>
